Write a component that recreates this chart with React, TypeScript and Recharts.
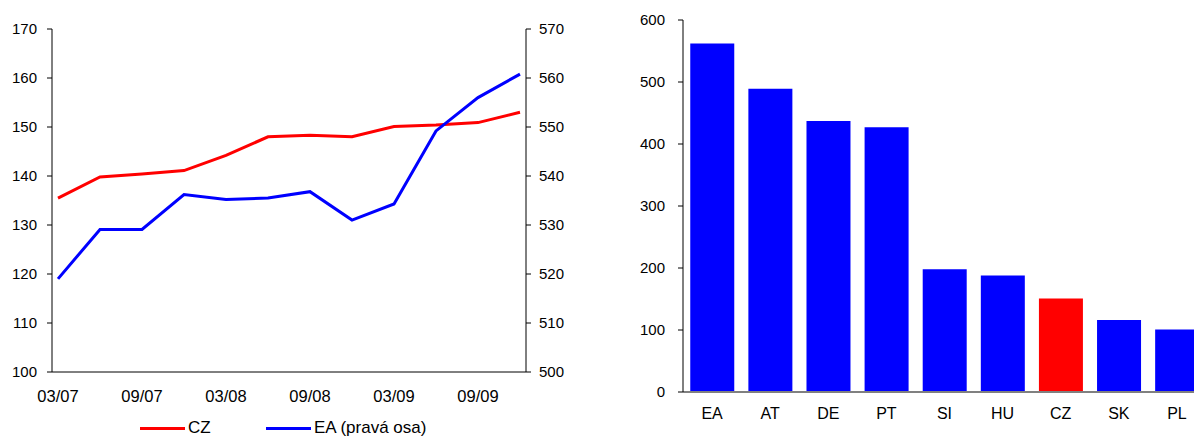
import React from 'react';
import { LineChart, Line, XAxis, YAxis, Legend, BarChart, Bar, Cell } from 'recharts';

const quarters = ['03/07', '06/07', '09/07', '12/07', '03/08', '06/08', '09/08', '12/08', '03/09', '06/09', '09/09', '12/09'];
const czValues = [135.5, 139.8, 140.4, 141.1, 144.2, 148.0, 148.3, 148.0, 150.1, 150.4, 150.9, 153.0];
const eaValues = [519.0, 529.1, 529.1, 536.2, 535.2, 535.5, 536.8, 531.0, 534.3, 549.2, 556.0, 560.8];
const leftTicks = [100, 110, 120, 130, 140, 150, 160, 170];
const rightTicks = [500, 510, 520, 530, 540, 550, 560, 570];

const countries = ['EA', 'AT', 'DE', 'PT', 'SI', 'HU', 'CZ', 'SK', 'PL'];
const countryValues = [562, 489, 437, 427, 198, 188, 151, 116, 101];
const barTicks = [0, 100, 200, 300, 400, 500, 600];
const highlighted = 'CZ';

const FONT = '"Liberation Sans", Arial, sans-serif';
const RED = '#FF0000';
const BLUE = '#0000FF';

const lineData = quarters.map((q, i) => ({ q, CZ: czValues[i], EA: eaValues[i] }));
const barData = countries.map((c, i) => ({ c, v: countryValues[i] }));

const legendX = [140, 266];

const renderLegend = (props: any) => {
  const payload = props.payload || [];
  return (
    <div style={{ position: 'relative', width: 576, height: 439 }}>
      {payload.map((entry: any, i: number) => (
        <div key={i} style={{ position: 'absolute', left: legendX[i], top: 418, height: 20, display: 'flex', alignItems: 'center' }}>
          <div style={{ width: 45, height: 3, background: entry.color, marginRight: 3 }} />
          <span style={{ fontFamily: FONT, fontSize: 17, color: '#000', lineHeight: '20px', whiteSpace: 'nowrap' }}>{entry.value}</span>
        </div>
      ))}
    </div>
  );
};

export default function App() {
  return (
    <div style={{ position: 'absolute', left: 0, top: 0, width: 1194, height: 439, overflow: 'hidden', background: '#fff' }}>
      <div style={{ position: 'absolute', left: 0, top: 0 }}>
        <LineChart width={576} height={439} data={lineData} margin={{ top: 29, right: 0, bottom: 0, left: 0 }}>
          <XAxis
            dataKey="q"
            interval={1}
            padding={{ left: 6, right: 6 }}
            tickLine={false}
            tickSize={0}
            tickMargin={18}
            height={67}
            axisLine={{ stroke: '#000', strokeWidth: 1 }}
            tick={{ fill: '#000', fontSize: 16.5, fontFamily: FONT }}
          />
          <YAxis
            yAxisId="left"
            orientation="left"
            domain={[100, 170]}
            ticks={leftTicks}
            width={52}
            tickSize={5}
            tickMargin={10}
            axisLine={{ stroke: '#000' }}
            tickLine={{ stroke: '#000' }}
            tick={{ fill: '#000', fontSize: 15, fontFamily: FONT }}
          />
          <YAxis
            yAxisId="right"
            orientation="right"
            domain={[500, 570]}
            ticks={rightTicks}
            width={50}
            tickSize={5}
            tickMargin={8}
            axisLine={{ stroke: '#000' }}
            tickLine={{ stroke: '#000' }}
            tick={{ fill: '#000', fontSize: 15, fontFamily: FONT }}
          />
          <Line yAxisId="left" type="linear" dataKey="CZ" name="CZ" stroke={RED} strokeWidth={3} dot={false} isAnimationActive={false} />
          <Line yAxisId="right" type="linear" dataKey="EA" name="EA (pravá osa)" stroke={BLUE} strokeWidth={3} dot={false} isAnimationActive={false} />
          <Legend
            layout="vertical"
            align="center"
            verticalAlign="middle"
            wrapperStyle={{ left: 0, top: 0, width: 576, height: 439 }}
            content={renderLegend}
          />
        </LineChart>
      </div>
      <div style={{ position: 'absolute', left: 600, top: 0 }}>
        <BarChart width={620} height={439} data={barData} margin={{ top: 20, right: 14, bottom: 0, left: 0 }} barCategoryGap="12.5%">
          <XAxis
            dataKey="c"
            tickLine={false}
            tickSize={0}
            tickMargin={16}
            height={47}
            axisLine={{ stroke: '#808080', strokeWidth: 2 }}
            tick={{ fill: '#000', fontSize: 16, fontFamily: FONT }}
          />
          <YAxis
            domain={[0, 600]}
            ticks={barTicks}
            width={83}
            tickSize={5}
            tickMargin={13}
            axisLine={{ stroke: '#000' }}
            tickLine={{ stroke: '#000' }}
            tick={{ fill: '#000', fontSize: 15, fontFamily: FONT }}
          />
          <Bar dataKey="v" isAnimationActive={false}>
            {barData.map((d, i) => (
              <Cell key={i} fill={d.c === highlighted ? RED : BLUE} />
            ))}
          </Bar>
        </BarChart>
      </div>
    </div>
  );
}
